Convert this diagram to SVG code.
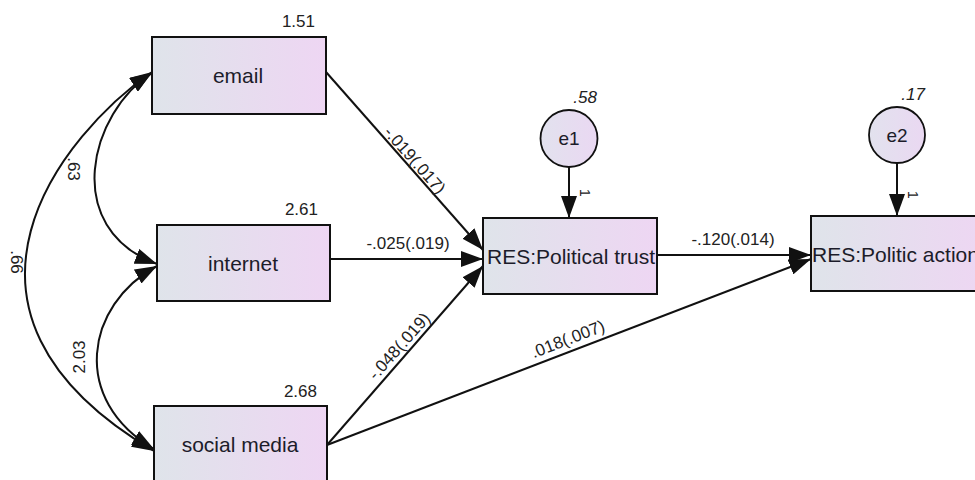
<svg xmlns="http://www.w3.org/2000/svg" width="975" height="480" viewBox="0 0 975 480">
<style>
.box{stroke:#111;stroke-width:2;fill:url(#g)}
.circ{stroke:#111;stroke-width:1.8;fill:url(#gc)}
.lbl{font-family:"Liberation Sans",Arial,sans-serif;font-size:21px;fill:#1c1c2a;text-anchor:middle}
.num{font-family:"Liberation Sans",Arial,sans-serif;font-size:17px;fill:#222}
.it{font-style:italic}
.ln{stroke:#111;stroke-width:2;fill:none}
</style>
<defs>
<linearGradient id="g" x1="0" y1="0" x2="1" y2="0">
<stop offset="0" stop-color="#dfe4ea"/>
<stop offset="1" stop-color="#eed6f3"/>
</linearGradient>
<linearGradient id="gc" x1="0" y1="0" x2="1" y2="0">
<stop offset="0" stop-color="#e2e2ee"/>
<stop offset="1" stop-color="#ead8f2"/>
</linearGradient>
<marker id="ah" markerUnits="userSpaceOnUse" markerWidth="23" markerHeight="16" refX="22" refY="8" orient="auto-start-reverse">
<path d="M0,0 L22,8 L0,16 z" fill="#111"/>
</marker>
</defs>

<g id="connectors">
<path class="ln" d="M326,72 L483,250" marker-end="url(#ah)"/>
<path class="ln" d="M330,259 L483,259" marker-end="url(#ah)"/>
<path class="ln" d="M327,445 L483,266" marker-end="url(#ah)"/>
<path class="ln" d="M327,445 L811,259" marker-end="url(#ah)"/>
<path class="ln" d="M657,255 L811,255" marker-end="url(#ah)"/>
<path class="ln" d="M569,167 L569,218" marker-end="url(#ah)"/>
<path class="ln" d="M897,163 L897,216" marker-end="url(#ah)"/>
<path class="ln" d="M152,73 C90,112 60,228 157,264" marker-start="url(#ah)" marker-end="url(#ah)"/>
<path class="ln" d="M152,72 C65,132 -85,310 154,451" marker-start="url(#ah)" marker-end="url(#ah)"/>
<path class="ln" d="M157,266 C85,305 70,400 154,449" marker-start="url(#ah)" marker-end="url(#ah)"/>
<text class="num" text-anchor="middle" transform="translate(406,168) rotate(48.6)" y="-6">-.019(.017)</text>
<text class="num" x="408" y="249" text-anchor="middle">-.025(.019)</text>
<text class="num" text-anchor="middle" transform="translate(408,354) rotate(-48.3)" y="-6">-.048(.019)</text>
<text class="num" text-anchor="middle" transform="translate(572,350) rotate(-21.1)" y="-6">.018(.007)</text>
<text class="num" x="733" y="245" text-anchor="middle">-.120(.014)</text>
<text class="num" text-anchor="middle" transform="translate(68,169) rotate(90)">.63</text>
<text class="num" text-anchor="middle" transform="translate(11,262) rotate(90)">.66</text>
<text class="num" text-anchor="middle" transform="translate(85,357) rotate(-90)">2.03</text>
<text class="num" text-anchor="middle" style="font-size:14px" transform="translate(580,193) rotate(90)">1</text>
<text class="num" text-anchor="middle" style="font-size:14px" transform="translate(908,195) rotate(90)">1</text>
</g>

<g id="email">
<rect class="box" x="152" y="37" width="174" height="77"/>
<text class="lbl" x="238" y="83">email</text>
<text class="num" x="315" y="27" text-anchor="end">1.51</text>
</g>
<g id="internet">
<rect class="box" x="157" y="225" width="173" height="76"/>
<text class="lbl" x="243" y="271">internet</text>
<text class="num" x="318" y="215" text-anchor="end">2.61</text>
</g>
<g id="social_media">
<rect class="box" x="154" y="406" width="173" height="80"/>
<text class="lbl" x="240" y="452">social media</text>
<text class="num" x="317" y="397" text-anchor="end">2.68</text>
</g>
<g id="political_trust">
<rect class="box" x="483" y="218" width="174" height="76"/>
<text class="lbl" x="571" y="264" textLength="168" lengthAdjust="spacingAndGlyphs">RES:Political trust</text>
</g>
<g id="politic_action">
<rect class="box" x="811" y="216" width="176" height="75"/>
<text class="lbl" x="812" y="262" style="text-anchor:start">RES:Politic action</text>
</g>
<g id="e1">
<circle class="circ" cx="569" cy="138.5" r="28.5"/>
<text class="lbl" x="569" y="145" style="font-size:19px">e1</text>
<text class="num it" x="597" y="103" text-anchor="end">.58</text>
</g>
<g id="e2">
<circle class="circ" cx="897" cy="135" r="28"/>
<text class="lbl" x="897" y="142" style="font-size:19px">e2</text>
<text class="num it" x="925" y="100" text-anchor="end">.17</text>
</g>
</svg>
